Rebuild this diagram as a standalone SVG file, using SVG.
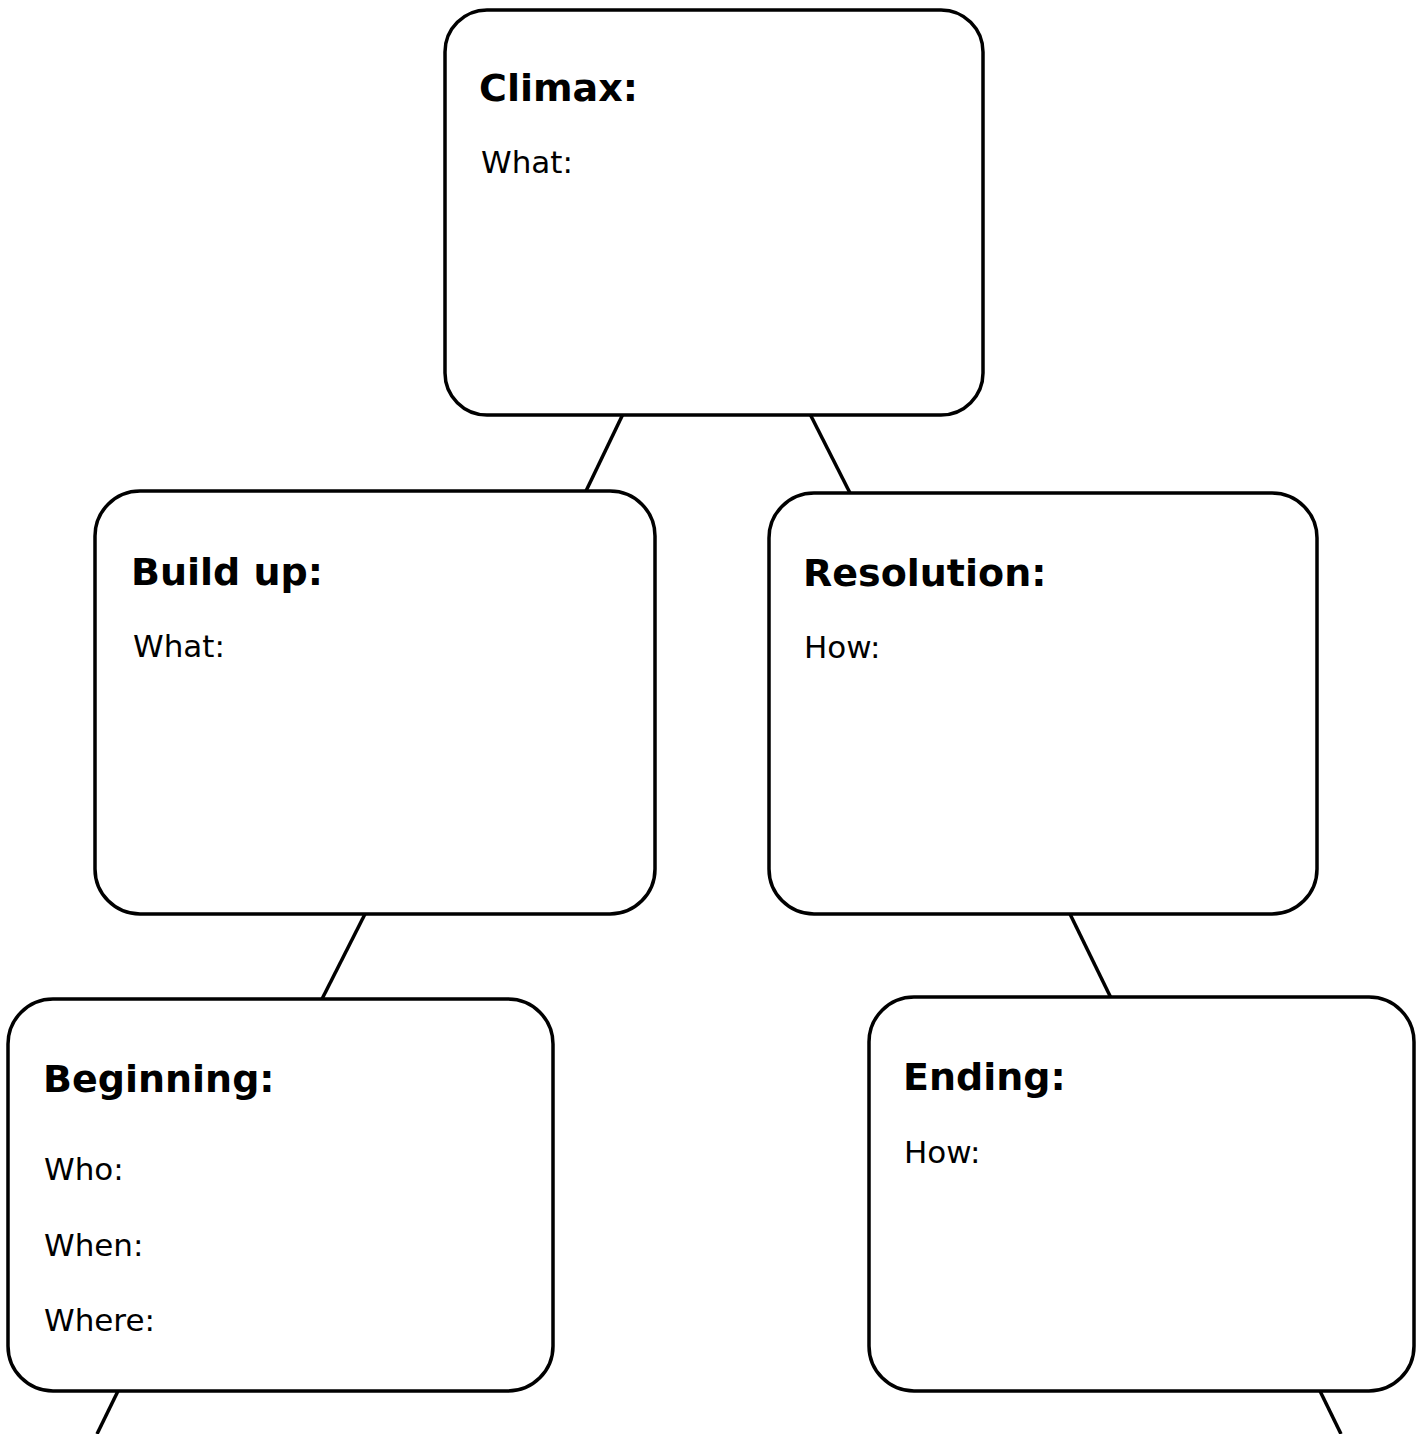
<svg xmlns="http://www.w3.org/2000/svg" width="1421" height="1434" viewBox="0 0 1421 1434">
<style>
.box{fill:#fff;stroke:#000;stroke-width:3.5}
.title{font-family:"DejaVu Sans",sans-serif;font-weight:bold;font-size:38px;fill:#000}
.label{font-family:"DejaVu Sans",sans-serif;font-size:31px;fill:#000}
.conn line{stroke:#000;stroke-width:3.5}
</style>
<rect width="1421" height="1434" fill="#fff"/>
<g id="connectors" class="conn">
<line x1="623" y1="414" x2="586" y2="491"/>
<line x1="810" y1="414" x2="850" y2="493"/>
<line x1="365" y1="914" x2="322" y2="999"/>
<line x1="1070" y1="914" x2="1111" y2="998"/>
<line x1="118" y1="1391" x2="97" y2="1434"/>
<line x1="1320" y1="1391" x2="1341" y2="1434"/>
</g>
<g id="climax">
<rect class="box" x="445" y="10" width="538" height="405" rx="42"/>
<text class="title" x="479" y="101">Climax:</text>
<text class="label" x="481" y="173">What:</text>
</g>
<g id="buildup">
<rect class="box" x="95" y="491" width="560" height="423" rx="45"/>
<text class="title" x="131" y="585">Build up:</text>
<text class="label" x="133" y="657">What:</text>
</g>
<g id="resolution">
<rect class="box" x="769" y="493" width="548" height="421" rx="45"/>
<text class="title" x="803" y="586">Resolution:</text>
<text class="label" x="804" y="658">How:</text>
</g>
<g id="beginning">
<rect class="box" x="8" y="999" width="545" height="392" rx="45"/>
<text class="title" x="43" y="1092">Beginning:</text>
<text class="label" x="44" y="1180">Who:</text>
<text class="label" x="44" y="1256">When:</text>
<text class="label" x="44" y="1331">Where:</text>
</g>
<g id="ending">
<rect class="box" x="869" y="997" width="545" height="394" rx="45"/>
<text class="title" x="903" y="1090">Ending:</text>
<text class="label" x="904" y="1163">How:</text>
</g>
</svg>
